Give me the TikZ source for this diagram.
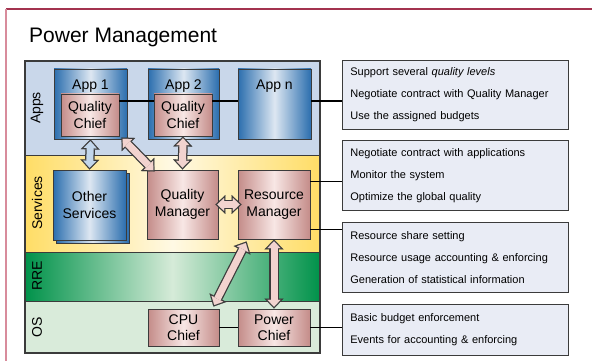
\documentclass[tikz,border=0pt]{standalone}
\usepackage{fontspec}
\setmainfont{Liberation Sans}
\usetikzlibrary{arrows.meta,positioning}

\definecolor{appsbg}{HTML}{C9D7EA}
\definecolor{servdk}{HTML}{FFDD66}
\definecolor{servlt}{HTML}{FFF9E4}
\definecolor{rredk}{HTML}{00924A}
\definecolor{rrelt}{HTML}{D6EBD8}
\definecolor{osbg}{HTML}{D9EBDA}
\definecolor{appdk}{HTML}{2B6EAE}
\definecolor{applt}{HTML}{DDE7F2}
\definecolor{chiefdk}{HTML}{C48C89}
\definecolor{chieflt}{HTML}{F8E7E5}
\definecolor{edge}{HTML}{3B3B3B}
\definecolor{notebg}{HTML}{E9ECF5}
\definecolor{arrowpink}{HTML}{F2D3CF}
\definecolor{arrowblue}{HTML}{C2D6EC}
\definecolor{frametop}{HTML}{A3334F}
\definecolor{frameleft}{HTML}{D88C9C}

\begin{document}
\begin{tikzpicture}[x=1pt, y=-1pt,
    appbox/.style={draw=edge, line width=0.9pt, left color=appdk, right color=appdk, middle color=applt,
        minimum width=73pt, minimum height=70pt, inner sep=0pt, align=center, font=\fontsize{14}{17}\selectfont},
    chief/.style={draw=edge, line width=0.9pt, left color=chiefdk, right color=chiefdk, middle color=chieflt,
        inner sep=0pt, align=center, font=\fontsize{14}{16.5}\selectfont},
    lbl/.style={font=\fontsize{14}{17}\selectfont},
    layerlbl/.style={font=\fontsize{14}{17}\selectfont, rotate=90},
    note/.style={draw=edge, fill=notebg, line width=0.8pt, anchor=north west, text width=210pt,
        inner xsep=8pt, inner ysep=0pt, align=left, font=\fontsize{11}{22}\selectfont},
    link/.style={draw=black, line width=1pt},
    bigout/.style={draw=edge, line width=9.5pt,
        {Triangle[width=19pt,length=10pt,line width=0.1pt]}-{Triangle[width=19pt,length=10pt,line width=0.1pt]}},
    bigin/.style={line width=7pt, shorten <=1.8pt, shorten >=1.8pt,
        {Triangle[width=13.1pt,length=6.9pt,line width=0.1pt]}-{Triangle[width=13.1pt,length=6.9pt,line width=0.1pt]}}]

    \useasboundingbox (0,0) rectangle (592,361);

    % frame and title
    \draw[frametop, line width=1.2pt] (6,9) -- (592,9);
    \draw[frameleft, line width=1.2pt] (6,9) -- (6,361);
    \node[anchor=base west, font=\fontsize{21}{24}\selectfont, inner sep=0pt] (title) at (29,43) {Power Management};

    % layers
    \fill[appsbg] (25,61) rectangle (320,155);
    \shade[left color=servdk, right color=servdk, middle color=servlt] (25,155) rectangle (320,252);
    \shade[left color=rredk, right color=rredk, middle color=rrelt] (25,252) rectangle (320,301);
    \fill[osbg] (25,301) rectangle (320,353);
    \draw[edge, line width=1pt] (25,155) -- (320,155) (25,252) -- (320,252) (25,301) -- (320,301);
    \draw[edge, line width=1.1pt] (25,61) rectangle (320,353);

    \node[layerlbl] (appslbl) at (37,108) {Apps};
    \node[layerlbl] (servlbl) at (37,203) {Services};
    \node[layerlbl] (rrelbl) at (37,276) {RRE};
    \node[layerlbl] (oslbl) at (37,327) {OS};

    % applications
    \node[appbox] (app1) at (90.5,104) {};
    \node[appbox, minimum width=71pt] (app2) at (183.5,104) {};
    \node[appbox] (appn) at (274.5,104) {};
    \node[lbl, anchor=base] (app1lbl) at ([yshift=-21pt]app1.north) {App 1};
    \node[lbl, anchor=base] (app2lbl) at ([yshift=-21pt]app2.north) {App 2};
    \node[lbl, anchor=base] (appnlbl) at ([yshift=-21pt]appn.north) {App n};

    \node[chief, minimum width=58pt, minimum height=42pt] (qc1) at (90,115) {Quality\\Chief};
    \node[chief, minimum width=58pt, minimum height=42pt] (qc2) at (183,115) {Quality\\Chief};

    % services
    \node[appbox] (othersh) at (92.5,208) {};
    \node[appbox] (other) at (89.5,205) {Other\\Services};
    \node[chief, minimum width=71pt, minimum height=69pt] (qm) at (182.5,204.5) {Quality\\Manager};
    \node[chief, minimum width=72pt, minimum height=69pt] (rm) at (274,204.5) {Resource\\Manager};

    % os
    \node[chief, minimum width=71pt, minimum height=37pt] (cpu) at (183.5,327.5) {CPU\\Chief};
    \node[chief, minimum width=72pt, minimum height=37pt] (pc) at (274,327.5) {Power\\Chief};

    % notes
    \node[note, minimum height=69pt] (n1) at (342,60) {Support several \textit{quality levels}\\
        Negotiate contract with Quality Manager\\Use the assigned budgets};
    \node[note, minimum height=70pt] (n2) at (342,140) {Negotiate contract with applications\\
        Monitor the system\\Optimize the global quality};
    \node[note, minimum height=70pt] (n3) at (342,222) {Resource share setting\\
        Resource usage accounting \& enforcing\\Generation of statistical information};
    \node[note, minimum height=51pt] (n4) at (342,304) {Basic budget enforcement\\
        Events for accounting \& enforcing};

    % links to notes
    \coordinate (ylink) at (0,101);
    \coordinate (rmup) at ([yshift=-12pt]rm.north east);
    \coordinate (rmdown) at ([yshift=10pt]rm.south east);
    \draw[link] (qc1.east |- ylink) -- (qc2.west |- ylink);
    \draw[link] (qc2.east |- ylink) -- (appn.west |- ylink);
    \draw[link] (appn.east |- ylink) -- (n1.west |- ylink);
    \draw[link] (rmup) -- (n2.west |- rmup);
    \draw[link] (rmdown) -- (n3.west |- rmdown);
    \draw[link] (cpu.east) -- (pc.west);
    \draw[link] (pc.east) -- (n4.west |- pc.east);

    % big arrows
    \coordinate (qmtip) at ([xshift=8pt,yshift=-2pt]qm.north west);
    \coordinate (qctip) at ([xshift=2pt,yshift=-1pt]qc1.south east);
    \coordinate (rmtip) at ([xshift=9pt,yshift=-2pt]rm.south west);
    \coordinate (cputip) at ([xshift=-6pt,yshift=2pt]cpu.north east);
    \coordinate (qmside) at ([xshift=-3pt]qm.east);
    \coordinate (rmside) at ([xshift=4pt]rm.west);
    \draw[bigout] (app1.south) -- (other.north);
    \draw[bigin, arrowblue] (app1.south) -- (other.north);
    \foreach \s/\t in {qctip/qmtip, qc2.south/qm.north, qmside/rmside, rmtip/cputip, rm.south/pc.north} {
        \draw[bigout] (\s) -- (\t);
        \draw[bigin, arrowpink] (\s) -- (\t);
    }
\end{tikzpicture}
\end{document}
